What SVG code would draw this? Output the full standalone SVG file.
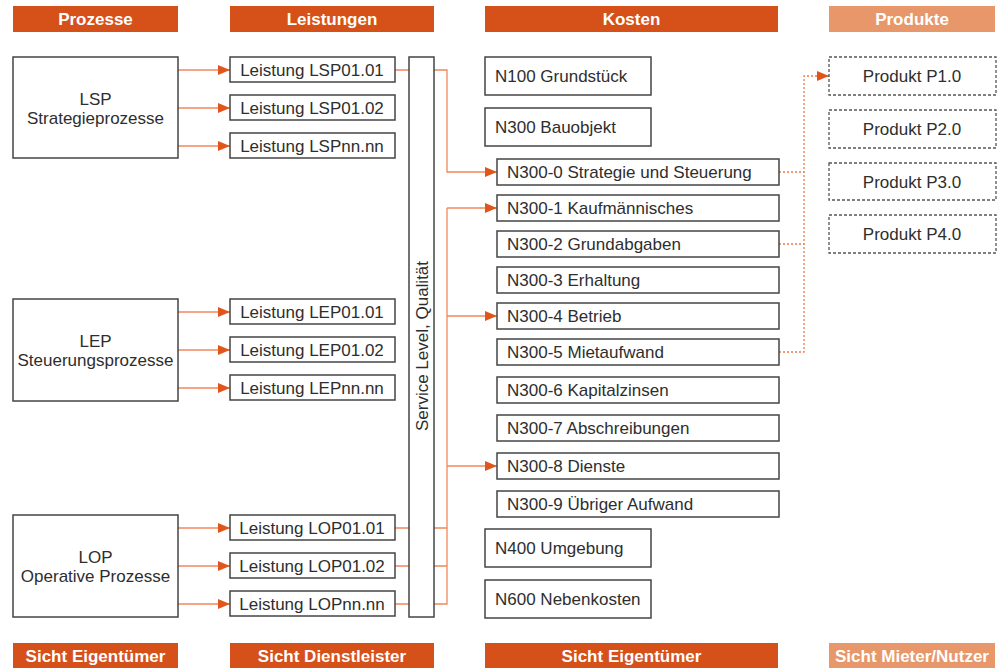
<svg xmlns="http://www.w3.org/2000/svg" width="1008" height="668" viewBox="0 0 1008 668">
<style>
text{font-family:"Liberation Sans",Arial,sans-serif;font-size:17px;fill:#2e2e2e}
.hd{fill:#D6501A}
.hdl{fill:#E8976A}
.ht{fill:#fff;font-weight:bold;text-anchor:middle}
.box{fill:#fff;stroke:#444;stroke-width:1.5}
.pbox{fill:#fff;stroke:#555;stroke-width:1.3;stroke-dasharray:3,2}
.c{text-anchor:middle}
.ln{fill:none;stroke:#F2875A;stroke-width:1.3}
.dl{fill:none;stroke:#EE7A45;stroke-width:1.3;stroke-dasharray:2,2}
</style>
<defs>
<marker id="ah" viewBox="0 0 12 10" refX="12" refY="5" markerWidth="12" markerHeight="10" markerUnits="userSpaceOnUse" orient="auto">
<path d="M0,0 L12,5 L0,10 z" fill="#E0561A"/>
</marker>
</defs>
<rect width="1008" height="668" fill="#fff"/>

<g id="headers">
<rect class="hd" x="13" y="6" width="165" height="26"/><text class="ht" x="95.5" y="25">Prozesse</text>
<rect class="hd" x="230" y="6" width="204" height="26"/><text class="ht" x="332" y="25">Leistungen</text>
<rect class="hd" x="485" y="6" width="293" height="26"/><text class="ht" x="631.5" y="25">Kosten</text>
<rect class="hdl" x="829" y="6" width="166" height="26"/><text class="ht" x="912" y="25">Produkte</text>
</g>
<g id="footers">
<rect class="hd" x="13" y="643" width="165" height="25"/><text class="ht" x="95.5" y="662">Sicht Eigentümer</text>
<rect class="hd" x="230" y="643" width="204" height="25"/><text class="ht" x="332" y="662">Sicht Dienstleister</text>
<rect class="hd" x="485" y="643" width="293" height="25"/><text class="ht" x="631.5" y="662">Sicht Eigentümer</text>
<rect class="hdl" x="829" y="643" width="166" height="25"/><text class="ht" x="912" y="662">Sicht Mieter/Nutzer</text>
</g>

<g id="connectors">
<line class="ln" x1="178" y1="70" x2="230" y2="70" marker-end="url(#ah)"/>
<line class="ln" x1="178" y1="108" x2="230" y2="108" marker-end="url(#ah)"/>
<line class="ln" x1="178" y1="146" x2="230" y2="146" marker-end="url(#ah)"/>
<line class="ln" x1="178" y1="312" x2="230" y2="312" marker-end="url(#ah)"/>
<line class="ln" x1="178" y1="350" x2="230" y2="350" marker-end="url(#ah)"/>
<line class="ln" x1="178" y1="388" x2="230" y2="388" marker-end="url(#ah)"/>
<line class="ln" x1="178" y1="528" x2="230" y2="528" marker-end="url(#ah)"/>
<line class="ln" x1="178" y1="566" x2="230" y2="566" marker-end="url(#ah)"/>
<line class="ln" x1="178" y1="604" x2="230" y2="604" marker-end="url(#ah)"/>
<path class="ln" d="M395,70H409M395,528H409M395,566H409M395,604H409"/>
<path class="ln" d="M434,70H447V172H497" marker-end="url(#ah)"/>
<path class="ln" d="M434,528H447M434,566H447M434,604H447V208"/>
<line class="ln" x1="447" y1="208" x2="497" y2="208" marker-end="url(#ah)"/>
<line class="ln" x1="447" y1="316" x2="497" y2="316" marker-end="url(#ah)"/>
<line class="ln" x1="447" y1="466" x2="497" y2="466" marker-end="url(#ah)"/>
<path class="dl" d="M779,172H804M779,244H804M779,352H804V76H829" marker-end="url(#ah)"/>
</g>

<g id="p-lsp"><rect class="box" x="13" y="57" width="165" height="101"/><text class="c" x="95.5" y="105">LSP</text><text class="c" x="95.5" y="124">Strategieprozesse</text></g>
<g id="p-lep"><rect class="box" x="13" y="299" width="165" height="102"/><text class="c" x="95.5" y="347">LEP</text><text class="c" x="95.5" y="366">Steuerungsprozesse</text></g>
<g id="p-lop"><rect class="box" x="13" y="515" width="165" height="102"/><text class="c" x="95.5" y="563">LOP</text><text class="c" x="95.5" y="582">Operative Prozesse</text></g>

<g id="l-lsp0101"><rect class="box" x="230" y="57" width="165" height="25"/><text class="c" x="312" y="76">Leistung LSP01.01</text></g>
<g id="l-lsp0102"><rect class="box" x="230" y="95" width="165" height="25"/><text class="c" x="312" y="114">Leistung LSP01.02</text></g>
<g id="l-lspnn"><rect class="box" x="230" y="133" width="165" height="25"/><text class="c" x="312" y="152">Leistung LSPnn.nn</text></g>
<g id="l-lep0101"><rect class="box" x="230" y="299" width="165" height="25"/><text class="c" x="312" y="318">Leistung LEP01.01</text></g>
<g id="l-lep0102"><rect class="box" x="230" y="337" width="165" height="25"/><text class="c" x="312" y="356">Leistung LEP01.02</text></g>
<g id="l-lepnn"><rect class="box" x="230" y="375" width="165" height="25"/><text class="c" x="312" y="394">Leistung LEPnn.nn</text></g>
<g id="l-lop0101"><rect class="box" x="230" y="515" width="165" height="25"/><text class="c" x="312" y="534">Leistung LOP01.01</text></g>
<g id="l-lop0102"><rect class="box" x="230" y="553" width="165" height="25"/><text class="c" x="312" y="572">Leistung LOP01.02</text></g>
<g id="l-lopnn"><rect class="box" x="230" y="591" width="165" height="25"/><text class="c" x="312" y="610">Leistung LOPnn.nn</text></g>

<g id="service-level"><rect class="box" x="409" y="57" width="25" height="560"/><text class="c" transform="translate(428,346) rotate(-90)">Service Level, Qualität</text></g>

<g id="k-n100"><rect class="box" x="485" y="57" width="166" height="38"/><text x="495" y="82">N100 Grundstück</text></g>
<g id="k-n300"><rect class="box" x="485" y="108" width="166" height="38"/><text x="495" y="133">N300 Bauobjekt</text></g>
<g id="k-n3000"><rect class="box" x="497" y="159" width="282" height="26"/><text x="507" y="178">N300-0 Strategie und Steuerung</text></g>
<g id="k-n3001"><rect class="box" x="497" y="195" width="282" height="26"/><text x="507" y="214">N300-1 Kaufmännisches</text></g>
<g id="k-n3002"><rect class="box" x="497" y="231" width="282" height="26"/><text x="507" y="250">N300-2 Grundabgaben</text></g>
<g id="k-n3003"><rect class="box" x="497" y="267" width="282" height="26"/><text x="507" y="286">N300-3 Erhaltung</text></g>
<g id="k-n3004"><rect class="box" x="497" y="303" width="282" height="26"/><text x="507" y="322">N300-4 Betrieb</text></g>
<g id="k-n3005"><rect class="box" x="497" y="339" width="282" height="26"/><text x="507" y="358">N300-5 Mietaufwand</text></g>
<g id="k-n3006"><rect class="box" x="497" y="377" width="282" height="26"/><text x="507" y="396">N300-6 Kapitalzinsen</text></g>
<g id="k-n3007"><rect class="box" x="497" y="415" width="282" height="26"/><text x="507" y="434">N300-7 Abschreibungen</text></g>
<g id="k-n3008"><rect class="box" x="497" y="453" width="282" height="26"/><text x="507" y="472">N300-8 Dienste</text></g>
<g id="k-n3009"><rect class="box" x="497" y="491" width="282" height="26"/><text x="507" y="510">N300-9 Übriger Aufwand</text></g>
<g id="k-n400"><rect class="box" x="485" y="529" width="166" height="38"/><text x="495" y="554">N400 Umgebung</text></g>
<g id="k-n600"><rect class="box" x="485" y="580" width="166" height="38"/><text x="495" y="605">N600 Nebenkosten</text></g>

<g id="pr-p1"><rect class="pbox" x="829" y="57" width="167" height="38"/><text class="c" x="912" y="82">Produkt P1.0</text></g>
<g id="pr-p2"><rect class="pbox" x="829" y="110" width="167" height="38"/><text class="c" x="912" y="135">Produkt P2.0</text></g>
<g id="pr-p3"><rect class="pbox" x="829" y="163" width="167" height="37"/><text class="c" x="912" y="188">Produkt P3.0</text></g>
<g id="pr-p4"><rect class="pbox" x="829" y="215" width="167" height="38"/><text class="c" x="912" y="240">Produkt P4.0</text></g>
</svg>
